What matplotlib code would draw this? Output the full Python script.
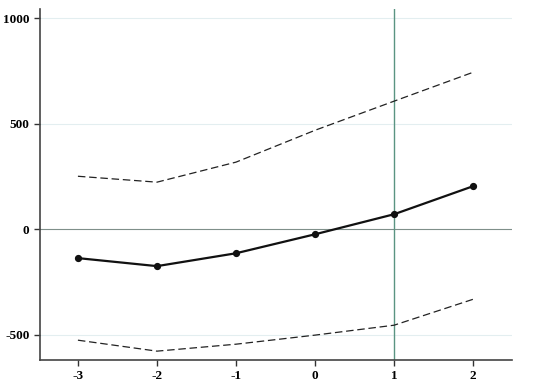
import matplotlib.pyplot as plt

periods = [-3, -2, -1, 0, 1, 2]
estimate = [-137, -175, -114, -24, 71, 204]
upper_ci = [251, 223, 318, 469, 607, 744]
lower_ci = [-526, -578, -545, -502, -455, -332]
yticks = [-500, 0, 500, 1000]

plt.rcParams['font.family'] = ['Liberation Serif', 'DejaVu Serif']
plt.rcParams['axes.unicode_minus'] = False  # plain hyphen like the original

fig = plt.figure(figsize=(5.5, 3.92), dpi=100)
ax = fig.add_axes([0.0727, 0.0816, 0.858, 0.895])

for v in [-500, 500, 1000]:
    ax.axhline(v, color='#e3eef0', lw=0.8, zorder=0)
ax.axhline(0, color='#7f8f8a', lw=0.8, zorder=1)
ax.axvline(1, color='#5a9482', lw=1.0, zorder=1)

ax.plot(periods, upper_ci, color='#222222', lw=0.9, ls=(0, (6, 3)))
ax.plot(periods, lower_ci, color='#222222', lw=0.9, ls=(0, (6, 3)))
ax.plot(periods, estimate, color='#111111', lw=1.6, marker='o', ms=4.2)

ax.set_xlim(-3.48, 2.49)
ax.set_ylim(-620, 1043)
ax.set_xticks(periods)
ax.set_yticks(yticks)
ax.tick_params(labelsize=9.5, length=4, width=1, color='#333333', direction='out')
for lbl in ax.get_xticklabels() + ax.get_yticklabels():
    lbl.set_fontweight('bold')

for s in ['top', 'right']:
    ax.spines[s].set_visible(False)
for s in ['left', 'bottom']:
    ax.spines[s].set_color('#444444')
    ax.spines[s].set_linewidth(1.2)

fig.savefig('out.png', dpi=100)
